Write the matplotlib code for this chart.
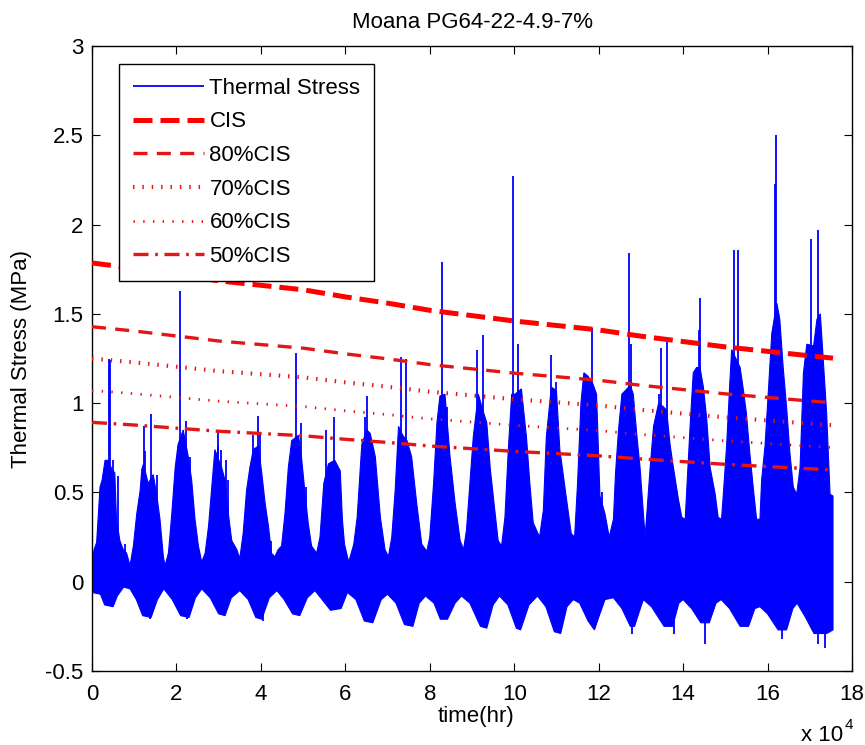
import numpy as np
import matplotlib
matplotlib.use("Agg")
import matplotlib.pyplot as plt
from matplotlib.ticker import FuncFormatter

plt.rcParams['font.family'] = ['Liberation Sans', 'DejaVu Sans']
plt.rcParams['axes.unicode_minus'] = False

# ---------------------------------------------------------------
# Data: time in units of 1e4 hours, stress in MPa
# ---------------------------------------------------------------
# Upper envelope of the hourly thermal-stress record
upper_t = [0.00, 0.05, 0.11, 0.19, 0.24, 0.31, 0.38, 0.47, 0.54, 0.58, 0.66, 0.74, 0.82, 0.90,
           0.98, 1.06, 1.14, 1.18, 1.22, 1.33, 1.45, 1.53, 1.61, 1.69, 1.73,
           1.81, 1.89, 1.97, 2.04, 2.16, 2.28, 2.36, 2.44, 2.52, 2.60,
           2.68, 2.76, 2.83, 2.91, 3.07, 3.15, 3.23, 3.31, 3.43, 3.50,
           3.58, 3.66, 3.74, 3.82, 3.94, 4.02, 4.10, 4.18, 4.25, 4.33,
           4.41, 4.49, 4.57, 4.65, 4.73, 4.89, 4.96, 5.04, 5.12, 5.20, 5.32,
           5.40, 5.49, 5.60, 5.75, 5.88, 5.93, 5.98, 6.08,
           6.20, 6.28, 6.39, 6.51, 6.59, 6.71, 6.83, 6.94, 7.02,
           7.10, 7.18, 7.26, 7.36, 7.46, 7.57, 7.69, 7.81, 7.93,
           8.00, 8.09, 8.17, 8.24, 8.36, 8.48, 8.60, 8.72, 8.80,
           8.87, 8.95, 9.03, 9.15, 9.27, 9.35, 9.43, 9.54, 9.62, 9.70,
           9.78, 9.86, 9.94, 10.02, 10.17, 10.29, 10.37, 10.45, 10.60,
           10.69, 10.76, 10.88, 11.00, 11.08, 11.24, 11.35, 11.43,
           11.50, 11.58, 11.65, 11.75, 11.86, 11.95, 12.03, 12.15, 12.25,
           12.35, 12.40, 12.47, 12.55, 12.63, 12.75, 12.82, 12.90, 12.98, 13.06, 13.10,
           13.14, 13.22, 13.30, 13.42, 13.53, 13.61, 13.69, 13.77, 13.89, 13.97, 14.05,
           14.09, 14.17, 14.24, 14.32, 14.40, 14.48, 14.56, 14.64, 14.76, 14.83, 14.91,
           14.95, 15.03, 15.11, 15.15, 15.27, 15.35, 15.43, 15.50, 15.58, 15.66, 15.74, 15.82,
           15.86, 15.94, 16.02, 16.10, 16.22, 16.29, 16.37, 16.45, 16.53, 16.61, 16.69,
           16.77, 16.85, 16.93, 17.09, 17.17, 17.25, 17.32, 17.40, 17.48, 17.55]
upper_v = [0.12, 0.18, 0.22, 0.53, 0.57, 0.68, 0.68, 0.63, 0.61, 0.35, 0.23, 0.18, 0.16, 0.09,
           0.20, 0.38, 0.51, 0.63, 0.66, 0.55, 0.60, 0.49, 0.35, 0.14, 0.09,
           0.16, 0.38, 0.64, 0.77, 0.85, 0.70, 0.57, 0.35, 0.20, 0.11,
           0.16, 0.31, 0.51, 0.74, 0.64, 0.57, 0.38, 0.23, 0.18, 0.13,
           0.27, 0.51, 0.64, 0.74, 0.76, 0.61, 0.44, 0.31, 0.16, 0.14,
           0.18, 0.20, 0.38, 0.64, 0.79, 0.82, 0.70, 0.51, 0.33, 0.20, 0.16,
           0.25, 0.55, 0.66, 0.68, 0.62, 0.35, 0.21, 0.11,
           0.21, 0.36, 0.77, 0.85, 0.83, 0.70, 0.36, 0.18, 0.14,
           0.25, 0.51, 0.87, 0.82, 0.79, 0.70, 0.44, 0.21, 0.17,
           0.25, 0.55, 0.89, 1.04, 1.05, 0.70, 0.44, 0.23, 0.18,
           0.29, 0.55, 0.81, 1.05, 0.95, 0.89, 0.64, 0.40, 0.23, 0.20,
           0.36, 0.74, 1.05, 1.05, 1.08, 0.81, 0.55, 0.33, 0.25,
           0.40, 0.81, 1.09, 1.07, 0.74, 0.46, 0.27, 0.25,
           0.55, 1.00, 1.17, 1.15, 1.11, 1.05, 0.48, 0.38, 0.25,
           0.35, 0.61, 0.85, 1.05, 1.07, 1.10, 1.05, 0.83, 0.64, 0.38, 0.25,
           0.38, 0.64, 0.87, 1.00, 0.98, 0.96, 0.77, 0.64, 0.46, 0.36, 0.35,
           0.53, 0.89, 1.17, 1.20, 1.20, 1.09, 0.91, 0.64, 0.49, 0.36, 0.35,
           0.48, 0.76, 1.13, 1.30, 1.24, 1.20, 1.07, 0.94, 0.72, 0.53, 0.35, 0.35,
           0.57, 0.76, 1.07, 1.39, 1.56, 1.47, 1.20, 0.98, 0.72, 0.53, 0.49,
           0.64, 1.17, 1.33, 1.32, 1.47, 1.50, 1.24, 0.94, 0.49, 0.48]

# Lower envelope of the hourly thermal-stress record
lower_t = [0.00, 0.20, 0.30, 0.50, 0.60, 0.75, 0.90,
           1.05, 1.20, 1.40, 1.55, 1.70,
           1.90, 2.10, 2.30, 2.45, 2.60,
           2.80, 3.00, 3.15, 3.30, 3.50,
           3.70, 3.88, 4.02, 4.20, 4.38,
           4.55, 4.75, 4.92, 5.10, 5.28,
           5.45, 5.65, 5.90, 6.05,
           6.25, 6.45, 6.65, 6.85, 7.00,
           7.20, 7.40, 7.60, 7.75, 7.90,
           8.10, 8.25, 8.42, 8.60, 8.75,
           8.95, 9.20, 9.35, 9.50, 9.65,
           9.85, 10.05, 10.15, 10.35, 10.55,
           10.75, 10.95, 11.10, 11.25, 11.40,
           11.55, 11.75, 11.90, 12.00, 12.15, 12.35,
           12.55, 12.75, 12.85, 13.00, 13.06,
           13.25, 13.55, 13.75, 13.90, 14.00,
           14.20, 14.42, 14.62, 14.78, 14.90,
           15.10, 15.35, 15.55, 15.70, 15.82,
           16.00, 16.25, 16.45, 16.60, 16.70,
           16.90, 17.10, 17.40, 17.55]
lower_v = [-0.06, -0.07, -0.13, -0.14, -0.08, -0.03, -0.04,
           -0.10, -0.19, -0.20, -0.10, -0.04,
           -0.10, -0.19, -0.20, -0.09, -0.04,
           -0.09, -0.18, -0.19, -0.09, -0.05,
           -0.10, -0.20, -0.21, -0.09, -0.05,
           -0.10, -0.18, -0.19, -0.09, -0.05,
           -0.10, -0.16, -0.15, -0.06,
           -0.10, -0.22, -0.23, -0.10, -0.07,
           -0.12, -0.24, -0.25, -0.12, -0.08,
           -0.12, -0.21, -0.21, -0.12, -0.08,
           -0.12, -0.25, -0.26, -0.13, -0.08,
           -0.13, -0.26, -0.27, -0.13, -0.08,
           -0.14, -0.28, -0.29, -0.14, -0.10,
           -0.12, -0.22, -0.27, -0.20, -0.10, -0.09,
           -0.15, -0.25, -0.25, -0.14, -0.10,
           -0.14, -0.25, -0.25, -0.12, -0.10,
           -0.15, -0.23, -0.23, -0.12, -0.10,
           -0.15, -0.25, -0.25, -0.15, -0.14,
           -0.18, -0.27, -0.27, -0.15, -0.12,
           -0.20, -0.29, -0.29, -0.27]

# Isolated hourly peaks above the envelope
spike_t = [0.40, 0.43, 0.49, 0.62, 0.78, 1.23, 1.26, 1.40, 1.53, 2.04, 2.09, 2.22, 2.32,
           2.98, 2.99, 3.06, 3.17, 3.23, 3.60, 3.82, 3.94, 3.99, 4.25, 4.73, 4.82, 4.95,
           5.08, 5.36, 5.55, 5.72, 6.46, 6.51, 7.32, 7.44, 8.28, 8.40, 9.11, 9.27, 9.98,
           10.10, 10.88, 11.00, 11.84, 12.08, 12.71, 12.77, 13.42, 13.48, 13.62, 13.84,
           14.38, 14.41, 15.21, 15.29, 16.17, 16.21, 17.02, 17.20]
spike_v = [1.25, 1.24, 0.68, 0.59, 0.21, 0.87, 0.73, 0.94, 0.60, 0.76, 1.63, 0.90, 0.70,
           0.84, 0.76, 0.74, 0.68, 0.57, 0.28, 0.82, 0.93, 0.83, 0.23, 0.76, 1.28, 0.89,
           0.53, 0.18, 0.85, 0.92, 0.92, 1.04, 1.26, 1.25, 1.79, 0.98, 1.30, 1.38, 2.27,
           1.33, 1.27, 1.12, 1.42, 0.50, 1.84, 1.33, 1.05, 1.31, 1.37, 0.51,
           1.41, 1.59, 1.86, 1.86, 2.23, 2.50, 1.92, 1.97]

# Isolated hourly minima below the envelope
dip_t = [1.37, 2.24, 4.06, 12.78, 13.79, 14.52, 16.35, 17.20, 17.35]
dip_v = [-0.21, -0.21, -0.22, -0.29, -0.29, -0.35, -0.32, -0.35, -0.37]

# Critical indicator stress (CIS) over time
cis_t = [0.0, 1.0, 2.0, 3.0, 4.0, 5.0, 6.0, 7.0, 8.0, 9.0, 10.0, 11.0, 12.0,
         13.0, 14.0, 15.0, 16.0, 17.0, 17.55]
cis_v = [1.785, 1.755, 1.72, 1.685, 1.66, 1.635, 1.595, 1.56, 1.52, 1.49, 1.46,
         1.435, 1.41, 1.375, 1.345, 1.315, 1.29, 1.265, 1.252]

cis_fractions = [1.0, 0.8, 0.7, 0.6, 0.5]
cis_labels = ['CIS', '80%CIS', '70%CIS', '60%CIS', '50%CIS']

x_ticks = [0, 2, 4, 6, 8, 10, 12, 14, 16, 18]
y_ticks = [-0.5, 0, 0.5, 1, 1.5, 2, 2.5, 3]

HOURS = 1e4

# ---------------------------------------------------------------
W, H = 865, 745
fig = plt.figure(figsize=(W / 100, H / 100), dpi=100)
ax = fig.add_axes([92 / W, 1 - 671 / H, 760 / W, 625 / H])

# thermal stress band
poly_t = np.concatenate([upper_t, lower_t[::-1]]) * HOURS
poly_v = np.concatenate([upper_v, lower_v[::-1]])
ax.fill(poly_t, poly_v, color='#0000ff', lw=0.8, ec='#0000ff', zorder=2)
ax.vlines(np.array(spike_t) * HOURS, 0, spike_v, colors='#0000ff', lw=1.3,
          zorder=2, label='Thermal Stress')
ax.vlines(np.array(dip_t) * HOURS, 0, dip_v, colors='#0000ff', lw=1.3, zorder=2)

# CIS limit lines
styles = [
    dict(color='#ff0000', lw=3.6, ls=(0, (3.8, 1.6))),
    dict(color='#e31515', lw=2.4, ls=(0, (4.2, 2.8))),
    dict(color='#e31515', lw=3.0, ls=(0, (0.35, 1.9))),
    dict(color='#e31515', lw=2.0, ls=(0, (0.5, 3.0))),
    dict(color='#e31515', lw=2.4, ls=(0, (4.5, 2.0, 0.8, 2.0))),
]
cis_arr = np.array(cis_v)
for frac, lab, st in zip(cis_fractions, cis_labels, styles):
    ax.plot(np.array(cis_t) * HOURS, frac * cis_arr, label=lab, zorder=3,
            dash_capstyle='butt', **st)

ax.set_xlim(0, 18 * HOURS)
ax.set_ylim(-0.5, 3)
ax.set_xticks(np.array(x_ticks) * HOURS)
ax.set_yticks(y_ticks)
ax.xaxis.set_major_formatter(FuncFormatter(lambda x, _: f'{x / HOURS:g}'))
ax.yaxis.set_major_formatter(FuncFormatter(lambda y, _: f'{y:g}'))
ax.tick_params(axis='both', which='both', direction='in', top=True, right=True,
               length=6, width=0.8, labelsize=16, colors='black')
ax.tick_params(axis='x', pad=9)
ax.tick_params(axis='y', pad=6)
for sp in ax.spines.values():
    sp.set_linewidth(1.0)
    sp.set_color('black')

ax.set_title('Moana PG64-22-4.9-7%', fontsize=16, pad=13)
ax.set_xlabel('time(hr)', fontsize=16)
ax.xaxis.set_label_coords(0.505, -0.056)
ax.set_ylabel('Thermal Stress (MPa)', fontsize=16)
ax.yaxis.set_label_coords(-0.079, 0.5)

# exponent of the time axis
fig.text(843 / W, 1 - 741 / H, 'x 10', fontsize=16, ha='right', va='baseline')
fig.text(845 / W, 1 - 729 / H, '4', fontsize=11, ha='left', va='baseline')

leg = ax.legend(loc='upper left', bbox_to_anchor=((119 - 92) / 760, (671 - 64) / 625),
                borderaxespad=0, frameon=True, fancybox=False, edgecolor='black',
                framealpha=1, fontsize=16, handlelength=3.2, handletextpad=0.25,
                labelspacing=0.57, borderpad=0.62)
leg.get_frame().set_linewidth(1.0)
leg.set_zorder(5)

fig.savefig('out.png', dpi=100)
